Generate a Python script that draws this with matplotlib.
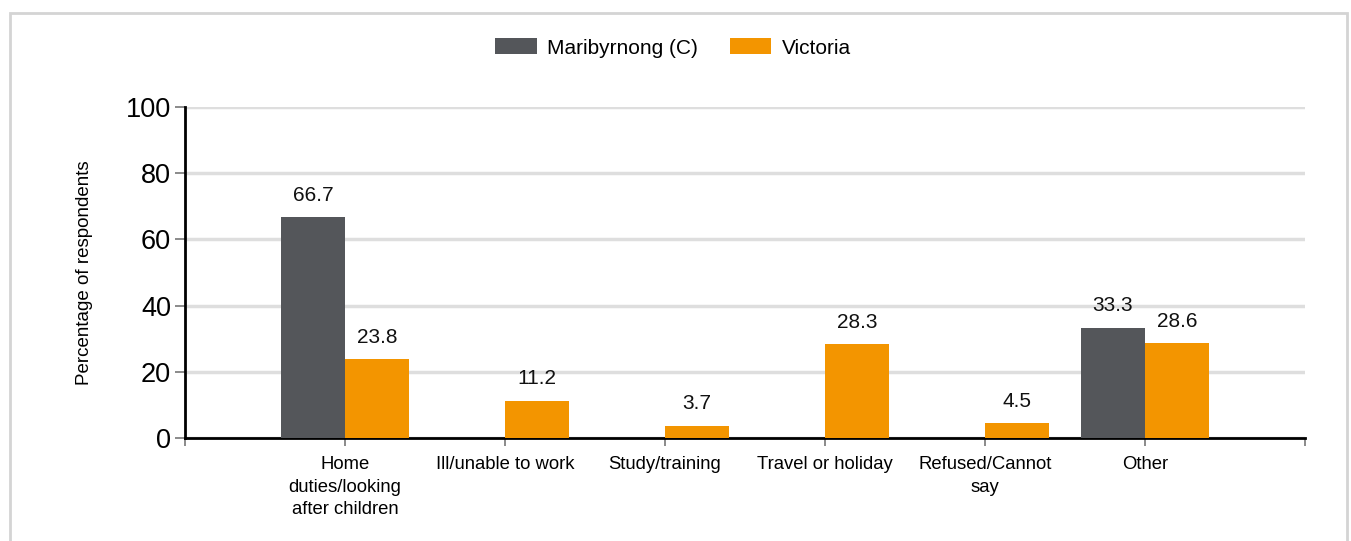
import numpy as np
import matplotlib.pyplot as plt
from matplotlib.patches import Rectangle

plt.rcParams['font.family'] = ['Liberation Sans', 'DejaVu Sans']

categories = ['Home\nduties/looking\nafter children', 'Ill/unable to work', 'Study/training',
              'Travel or holiday', 'Refused/Cannot\nsay', 'Other']
maribyrnong = [66.7, np.nan, np.nan, np.nan, np.nan, 33.3]
victoria = [23.8, 11.2, 3.7, 28.3, 4.5, 28.6]
series_names = ['Maribyrnong (C)', 'Victoria']

grey = '#54565a'
orange = '#f39500'

fig = plt.figure(figsize=(13.51, 5.41), dpi=100)
ax = fig.add_axes([185 / 1351, 1 - 438 / 541, 1120 / 1351, 331 / 541])

# light frame around the chart
fig.patches.append(Rectangle((10 / 1351, -0.05), 1337 / 1351, 1 - 13 / 541 + 0.05,
                             transform=fig.transFigure, fill=False,
                             edgecolor='#d4d4d4', linewidth=2, zorder=0))

x = np.arange(len(categories))
w = 0.4
b1 = ax.bar(x - w / 2, maribyrnong, w, color=grey, label=series_names[0], zorder=3)
b2 = ax.bar(x + w / 2, victoria, w, color=orange, label=series_names[1], zorder=3)

for bars, vals in [(b1, maribyrnong), (b2, victoria)]:
    for rect, v in zip(bars, vals):
        if np.isnan(v):
            continue
        ax.annotate(f'{v:.1f}', (rect.get_x() + rect.get_width() / 2, v),
                    xytext=(0, 9), textcoords='offset points',
                    ha='center', va='bottom', fontsize=15, color='#111111')

ax.set_xlim(-1, len(categories))
ax.set_ylim(0, 100)
ax.set_yticks(np.arange(0, 101, 20))
ax.yaxis.grid(True, color='#dedede', linewidth=2.5, zorder=0)
ax.set_axisbelow(True)

ax.set_xticks(x)
ax.set_xticklabels(categories, fontsize=13.3, linespacing=1.42)
ax.set_xticks([-1, len(categories)], minor=True)
ax.tick_params(axis='x', which='both', length=6, width=1.2, color='#777777', pad=7)
ax.tick_params(axis='y', length=7, width=1.2, color='#777777', labelsize=19.5, pad=3)

for s in ['top', 'right']:
    ax.spines[s].set_visible(False)
ax.spines['left'].set_linewidth(2)
ax.spines['bottom'].set_linewidth(2)

ax.set_ylabel('Percentage of respondents', fontsize=13.5, labelpad=24)

fig.legend(loc='center', bbox_to_anchor=(673 / 1351, 1 - 48 / 541), ncol=2,
           frameon=False, fontsize=15, handlelength=2.0, handleheight=0.8,
           columnspacing=1.5, handletextpad=0.5)

fig.savefig('out.png', dpi=100, facecolor='white')
